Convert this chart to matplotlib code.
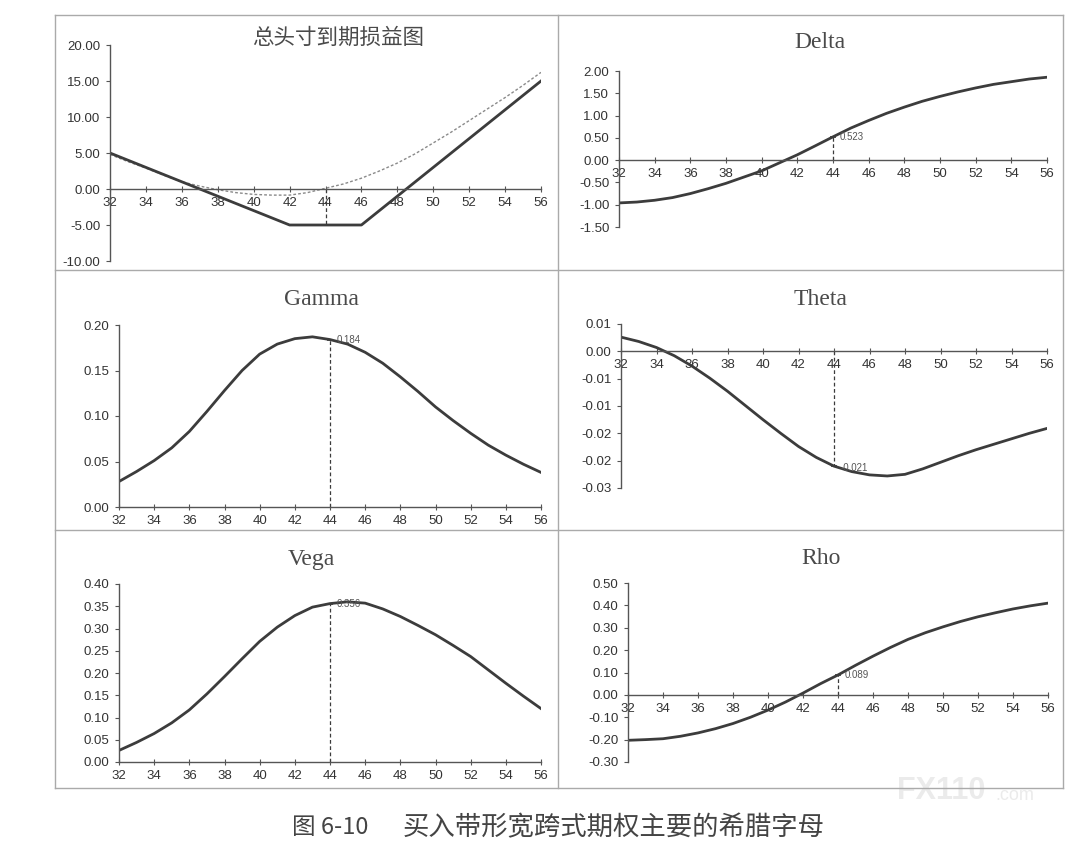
import matplotlib
matplotlib.use('Agg')
import matplotlib.pyplot as plt
from matplotlib.lines import Line2D

plt.rcParams['font.family'] = ['Liberation Sans', 'Noto Sans CJK SC', 'DejaVu Sans']

# underlying prices
prices = list(range(32, 57))
tick_prices = list(range(32, 57, 2))

# payoff at expiry (kinks) and current value of the position
expiry_x = [32, 42, 46, 56]
expiry_pnl = [5, -5, -5, 15]
current_pnl = [4.8, 3.8, 2.9, 1.9, 1.0, 0.4, -0.1, -0.5, -0.75, -0.85, -0.85, -0.5, 0.1,
               0.7, 1.5, 2.5, 3.6, 4.9, 6.4, 7.9, 9.5, 11.1, 12.7, 14.4, 16.2]

delta = [-0.96, -0.94, -0.90, -0.84, -0.75, -0.64, -0.52, -0.38, -0.24, -0.06, 0.12, 0.32, 0.523,
         0.72, 0.89, 1.05, 1.19, 1.32, 1.43, 1.53, 1.62, 1.70, 1.76, 1.82, 1.86]
gamma = [0.028, 0.039, 0.051, 0.065, 0.083, 0.105, 0.128, 0.150, 0.168, 0.179, 0.185, 0.187, 0.184,
         0.179, 0.170, 0.158, 0.143, 0.127, 0.110, 0.095, 0.081, 0.068, 0.057, 0.047, 0.038]
theta = [0.0026, 0.0018, 0.0007, -0.0008, -0.0027, -0.0049, -0.0073, -0.0099, -0.0125, -0.0150,
         -0.0174, -0.0194, -0.0210, -0.0220, -0.0226, -0.0228, -0.0225, -0.0215, -0.0203, -0.0191,
         -0.0180, -0.0170, -0.0160, -0.0150, -0.0141]
vega = [0.026, 0.044, 0.064, 0.088, 0.117, 0.153, 0.192, 0.232, 0.271, 0.303, 0.329, 0.348, 0.356,
        0.360, 0.357, 0.344, 0.327, 0.307, 0.286, 0.262, 0.237, 0.207, 0.177, 0.148, 0.120]
rho = [-0.203, -0.200, -0.196, -0.185, -0.170, -0.151, -0.128, -0.100, -0.068, -0.032, 0.008, 0.050,
       0.089, 0.132, 0.173, 0.212, 0.248, 0.278, 0.304, 0.328, 0.349, 0.367, 0.384, 0.398, 0.41]

# marked point at S = 44
mark_x = 44
mark_labels = {'delta': '0.523', 'gamma': '0.184', 'theta': '-0.021', 'vega': '0.356', 'rho': '0.089'}

W, H = 1092, 858
LINE = '#3c3c3c'
TXT = '#333333'
TITLE = '#4a4a4a'

fig = plt.figure(figsize=(W / 100, H / 100), dpi=100)


def px_axes(x0, x1, ytop, ybot):
    return fig.add_axes([x0 / W, 1 - ybot / H, (x1 - x0) / W, (ybot - ytop) / H])


def style(ax, yticks, ylabels, ylim):
    ax.set_xlim(32, 56)
    ax.set_ylim(*ylim)
    for s in ['top', 'right']:
        ax.spines[s].set_visible(False)
    ax.spines['bottom'].set_position(('data', 0))
    for s in ['left', 'bottom']:
        ax.spines[s].set_color('#555555')
        ax.spines[s].set_linewidth(1.0)
    ax.set_xticks(tick_prices)
    ax.set_xticklabels([str(t) for t in tick_prices])
    ax.set_yticks(yticks)
    ax.set_yticklabels(ylabels)
    ax.tick_params(axis='x', direction='inout', length=5, width=0.8, color='#555555',
                   labelsize=9.5, labelcolor=TXT, pad=3)
    ax.tick_params(axis='y', direction='out', length=3, width=0.8, color='#555555',
                   labelsize=9.5, labelcolor=TXT, pad=4)
    ax.patch.set_alpha(0)


def mark(ax, yval, label, dy=0):
    ax.plot([mark_x, mark_x], [0, yval], color=LINE, lw=0.9, ls=(0, (3, 2)))
    ax.plot([mark_x], [yval], marker='_', ms=5, color=LINE, mew=1.2)
    ax.annotate(label, (mark_x, yval), xytext=(5, dy), textcoords='offset points',
                fontsize=7, color='#555555', va='center')


def title(x, y, text, **kw):
    fig.text(x / W, 1 - y / H, text, ha='center', va='center', color=TITLE, **kw)


# watermark
fig.text(897 / W, 1 - 791 / H, 'FX110', fontsize=22, fontweight='bold', color='#ebebeb',
         va='center', ha='left', zorder=0)
fig.text(995 / W, 1 - 795 / H, '.com', fontsize=13, color='#ebebeb', va='center', ha='left', zorder=0)

# panel frames
frame = dict(color='#aaaaaa', lw=1.0, transform=fig.transFigure)
L, R, T, B = 55, 1063, 15, 788
for (xa, ya, xb, yb) in [(L, T, R, T), (L, B, R, B), (L, T, L, B), (R, T, R, B),
                         (558, T, 558, B), (L, 270, R, 270), (L, 530, R, 530)]:
    fig.add_artist(Line2D([xa / W, xb / W], [1 - ya / H, 1 - yb / H], **frame))

# total position P&L at expiry
ax = px_axes(110, 541, 45, 261)
ax.plot(prices, current_pnl, color='#8a8a8a', lw=1.0, ls=(0, (2, 1.5)))
ax.plot(expiry_x, expiry_pnl, color=LINE, lw=2.0)
ax.plot([mark_x, mark_x], [0, -5], color=LINE, lw=0.9, ls=(0, (3, 2)))
style(ax, [20, 15, 10, 5, 0, -5, -10], ['20.00', '15.00', '10.00', '5.00', '0.00', '-5.00', '-10.00'],
      (-10, 20))
title(338, 38, '总头寸到期损益图', fontsize=15.5, family=['Noto Sans CJK SC'])

# Delta
ax = px_axes(619, 1047, 71, 227)
ax.plot(prices, delta, color=LINE, lw=2.0)
mark(ax, delta[prices.index(mark_x)], mark_labels['delta'])
style(ax, [2, 1.5, 1, 0.5, 0, -0.5, -1, -1.5],
      ['2.00', '1.50', '1.00', '0.50', '0.00', '-0.50', '-1.00', '-1.50'], (-1.5, 2))
title(820, 43, 'Delta', fontsize=17, family='Liberation Serif')

# Gamma
ax = px_axes(119, 541, 325, 507)
ax.plot(prices, gamma, color=LINE, lw=2.0)
mark(ax, gamma[prices.index(mark_x)], mark_labels['gamma'])
style(ax, [0, 0.05, 0.10, 0.15, 0.20], ['0.00', '0.05', '0.10', '0.15', '0.20'], (0, 0.2))
title(321, 300, 'Gamma', fontsize=17, family='Liberation Serif')

# Theta
ax = px_axes(621, 1047, 324, 488)
ax.plot(prices, theta, color=LINE, lw=2.0)
mark(ax, theta[prices.index(mark_x)], mark_labels['theta'], dy=-1)
style(ax, [0.005, 0, -0.005, -0.010, -0.015, -0.020, -0.025],
      ['0.01', '0.00', '-0.01', '-0.01', '-0.02', '-0.02', '-0.03'], (-0.025, 0.005))
title(821, 300, 'Theta', fontsize=17, family='Liberation Serif')

# Vega
ax = px_axes(119, 541, 584, 762)
ax.plot(prices, vega, color=LINE, lw=2.0)
mark(ax, vega[prices.index(mark_x)], mark_labels['vega'])
style(ax, [0, 0.05, 0.10, 0.15, 0.20, 0.25, 0.30, 0.35, 0.40],
      ['0.00', '0.05', '0.10', '0.15', '0.20', '0.25', '0.30', '0.35', '0.40'], (0, 0.4))
title(311, 559, 'Vega', fontsize=17, family='Liberation Serif')

# Rho
ax = px_axes(628, 1048, 583, 762)
ax.plot(prices, rho, color=LINE, lw=2.0)
mark(ax, rho[prices.index(mark_x)], mark_labels['rho'])
style(ax, [0.5, 0.4, 0.3, 0.2, 0.1, 0, -0.1, -0.2, -0.3],
      ['0.50', '0.40', '0.30', '0.20', '0.10', '0.00', '-0.10', '-0.20', '-0.30'], (-0.3, 0.5))
title(821, 558, 'Rho', fontsize=17, family='Liberation Serif')

# caption
fig.text(292 / W, 1 - 828 / H, '图 6-10', ha='left', va='center', fontsize=17,
         color='#444444', family=['Noto Sans CJK SC'])
fig.text(403 / W, 1 - 828 / H, '买入带形宽跨式期权主要的希腊字母', ha='left', va='center', fontsize=19,
         color='#444444', family=['Noto Sans CJK SC'])

fig.savefig('out.png', dpi=100)
